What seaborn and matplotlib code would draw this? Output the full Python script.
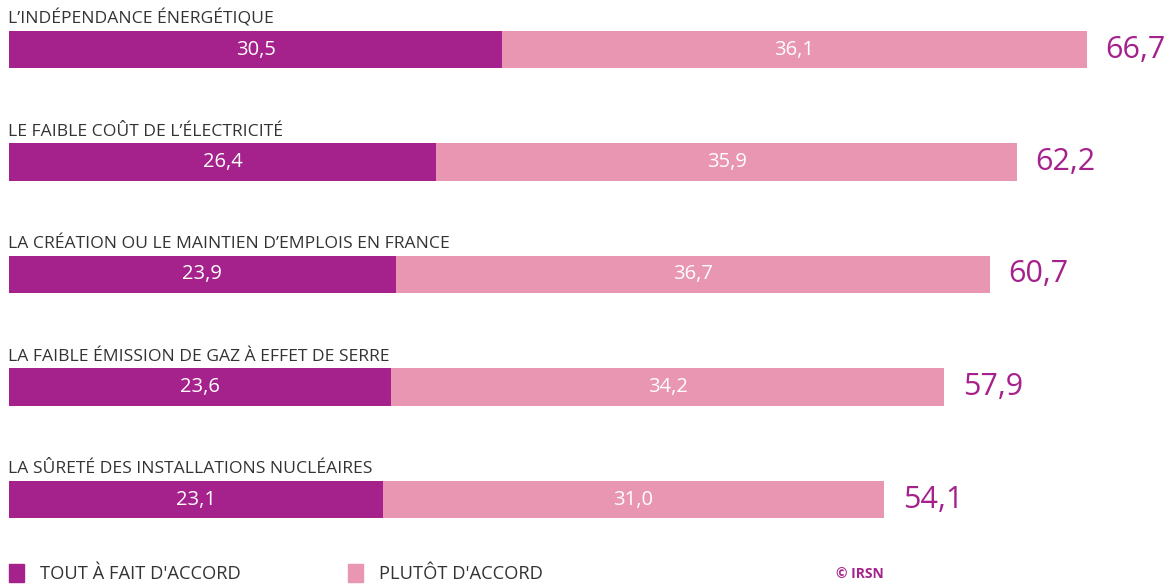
import matplotlib.pyplot as plt
import pandas as pd
import seaborn as sns

categories = [
    "L\u2019INDÉPENDANCE ÉNERGÉTIQUE",
    "LE FAIBLE COÛT DE L\u2019ÉLECTRICITÉ",
    "LA CRÉATION OU LE MAINTIEN D\u2019EMPLOIS EN FRANCE",
    "LA FAIBLE ÉMISSION DE GAZ À EFFET DE SERRE",
    "LA SÛRETÉ DES INSTALLATIONS NUCLÉAIRES",
]
tout_a_fait = [30.5, 26.4, 23.9, 23.6, 23.1]
plutot = [36.1, 35.9, 36.7, 34.2, 31.0]
totals = [66.7, 62.2, 60.7, 57.9, 54.1]
legend_labels = ["TOUT À FAIT D'ACCORD", "PLUTÔT D'ACCORD"]

PURPLE = "#a5218c"
PINK = "#e996b2"
GREY = "#333333"


def fmt(v):
    return f"{v:.1f}".replace(".", ",")


def main():
    df = pd.DataFrame({"cat": categories, "fort": tout_a_fait,
                       "plutot": plutot, "total": totals})
    df["stack"] = df["fort"] + df["plutot"]

    sns.set_theme(style="white")
    plt.rcParams["font.family"] = ["Open Sans", "DejaVu Sans"]
    fig = plt.figure(figsize=(11.68, 5.84), dpi=100)
    ax = fig.add_axes([0, 0, 1, 1])

    sns.barplot(df, x="stack", y="cat", color=PINK, saturation=1,
                width=0.33, orient="h", linewidth=0, ax=ax)
    sns.barplot(df, x="fort", y="cat", color=PURPLE, saturation=1,
                width=0.33, orient="h", linewidth=0, ax=ax)

    px = 16.18
    ax.set_xlim(-9 / px, (1168 - 9) / px)
    ax.set_ylim((584 - 49.5) / 112.5, -49.5 / 112.5)
    ax.axis("off")

    for i, row in df.iterrows():
        ax.text(-0.05, i - 0.235, row["cat"], fontsize=12.6, color=GREY,
                ha="left", va="baseline")
        ax.text(row["fort"] / 2, i, fmt(row["fort"]), fontsize=14.5,
                color="white", ha="center", va="center")
        ax.text(row["fort"] + row["plutot"] / 2, i, fmt(row["plutot"]),
                fontsize=14.5, color="white", ha="center", va="center")
        ax.text(row["stack"] + 1.15, i, fmt(row["total"]), fontsize=22,
                color=PURPLE, ha="left", va="center")

    # legend
    for x0, label, col in [(9, legend_labels[0], PURPLE),
                           (348, legend_labels[1], PINK)]:
        fig.patches.append(plt.Rectangle(
            (x0 / 1168, 2 / 584), 15 / 1168, 18 / 584,
            transform=fig.transFigure, color=col, figure=fig))
        fig.text((x0 + 31) / 1168, 10 / 584, label, fontsize=13.2,
                 color=GREY, ha="left", va="center")
    fig.text(836 / 1168, 10 / 584, "© IRSN", fontsize=10,
             fontweight="bold", color=PURPLE, ha="left", va="center")

    fig.savefig("out.png", dpi=100)


if __name__ == "__main__":
    main()
